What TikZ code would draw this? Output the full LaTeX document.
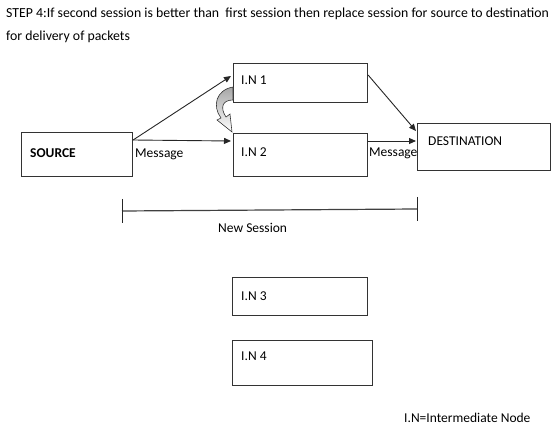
\documentclass[tikz,border=0pt]{standalone}
\usepackage{fontspec}
\setmainfont{Carlito}
\usepackage{tikz}
\usetikzlibrary{positioning}
\usetikzlibrary{arrows.meta, calc}

\begin{document}
\begin{tikzpicture}[x=1pt, y=-1pt]
 
 \tikzset{box/.style={
 		draw=black!80,
 		line width=1.1pt,
 		rectangle,
 		anchor=north west,
 		inner sep=0pt
 	},
 	txt/.style={
 		anchor=west,
 		inner sep=0pt,
 		font=\fontsize{13.5}{16}\selectfont
 	},
 	link/.style={
 		draw=black!85,
 		line width=0.9pt,
 		-{Triangle[length=7pt,width=6pt]}
 	}
 }
 \useasboundingbox (0,0) rectangle (558,428);
 
 % heading
 \node[anchor=north west, inner sep=0pt, align=left, font=\fontsize{13.8}{23}\selectfont] (head) at (6,8)
 	{STEP 4:If second session is better than\ \ first session then replace session for source to destination\\for delivery of packets};
 
 % boxes
 \node[box, minimum width=111pt, minimum height=44pt] (source) at (21,132) {};
 \node[box, minimum width=134pt, minimum height=39pt] (in1) at (233,63) {};
 \node[box, minimum width=134pt, minimum height=43pt] (in2) at (233,133) {};
 \node[box, minimum width=133pt, minimum height=47pt] (dest) at (417,123) {};
 \node[box, minimum width=135pt, minimum height=38pt] (in3) at (232,277) {};
 \node[box, minimum width=140pt, minimum height=45pt] (in4) at (232,340) {};
 
 \node[txt] (sourcet) at (30,153) {\textbf{SOURCE}};
 \node[txt] (in1t) at (241,80) {I.N 1};
 \node[txt] (in2t) at (241,152) {I.N 2};
 \node[txt] (destt) at (428,141) {DESTINATION};
 \node[txt] (in3t) at (241,296) {I.N 3};
 \node[txt] (in4t) at (241,356) {I.N 4};
 
 % links
 \coordinate (s0) at ($(source.north east)+(0,8)$);
 \coordinate (d0) at ($(dest.north west)+(-1,8)$);
 \draw[link] (s0) -- ($(in1.north west)+(-2,13)$);
 \draw[link] (s0) -- ($(in2.north west)+(-2,8)$);
 \draw[link] ($(in1.north east)+(0,12)$) -- (d0);
 \draw[link] ($(in2.north east)+(0,8)$) -- ($(dest.north west)+(-1,18)$);
 \node[txt] (msg1) at (135,154) {Message};
 \node[txt] (msg2) at (369,153) {Message};
 
 % swap arrow
 \draw[black!80, line width=0.6pt, top color=black!35, bottom color=white]
 	(233,87) .. controls (216,90) and (212,106) .. (221,118) -- (217,120) -- (232,132)
 	-- (230,114) -- (226,117) .. controls (220,108) and (222,100) .. (233,100) -- cycle;
 
 % new session
 \coordinate (ns1) at (122,211);
 \coordinate (ns2) at (417,209);
 \draw[black!75, line width=1.2pt] (ns1) -- (ns2);
 \draw[black!85, line width=0.9pt] ($(ns1)+(0,-12)$) -- ($(ns1)+(0,12)$);
 \draw[black!85, line width=0.9pt] ($(ns2)+(0,-12)$) -- ($(ns2)+(0,12)$);
 \node[txt] (nst) at (218,228) {New Session};
 
 \node[txt] (key) at (404,418) {I.N=Intermediate Node};
 
\end{tikzpicture}
\end{document}
